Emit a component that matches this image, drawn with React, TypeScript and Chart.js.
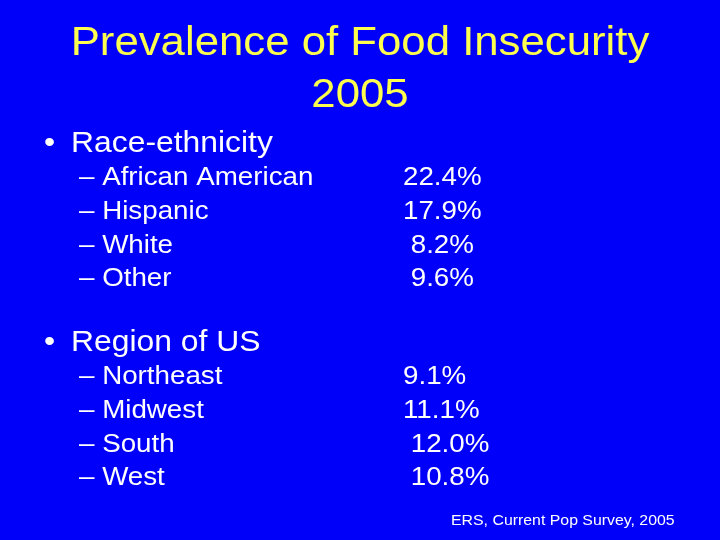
import React, { useEffect, useRef } from "react";
import { Chart, registerables } from "chart.js";

Chart.register(...registerables);

// ---- data ----
const titleLines = ["Prevalence of Food Insecurity", "2005"];
const raceHeading = "Race-ethnicity";
const raceCategories = ["African American", "Hispanic", "White", "Other"];
const raceValues = [22.4, 17.9, 8.2, 9.6];
const regionHeading = "Region of US";
const regionCategories = ["Northeast", "Midwest", "South", "West"];
const regionValues = [9.1, 11.1, 12.0, 10.8];
const sourceNote = "ERS, Current Pop Survey, 2005";

// ---- layout / style ----
const W = 720;
const H = 540;
const BG = "#0000FA";
const TITLE_COLOR = "#FFFF4D";
const TEXT_COLOR = "#FFFFFF";
const FONT = "'Liberation Sans', Arial, Helvetica, sans-serif";
const XSCALE = 1.08;
const valueIndent = [false, false, true, true];

const slidePlugin = {
  id: "slideText",
  beforeDraw(chart: any) {
    const ctx = chart.ctx as CanvasRenderingContext2D;
    ctx.save();
    ctx.fillStyle = BG;
    ctx.fillRect(0, 0, chart.width, chart.height);
    ctx.restore();
  },
  afterDraw(chart: any) {
    const ctx = chart.ctx as CanvasRenderingContext2D;
    const labels: string[] = chart.data.labels;
    const ds = chart.data.datasets;
    const race: number[] = ds[0].data;
    const region: number[] = ds[1].data;

    const draw = (
      text: string,
      x: number,
      y: number,
      size: number,
      color: string,
      align: CanvasTextAlign = "left"
    ) => {
      ctx.save();
      ctx.translate(x, y);
      ctx.scale(XSCALE, 1);
      ctx.font = `${size}px ${FONT}`;
      ctx.fillStyle = color;
      ctx.textAlign = align;
      ctx.textBaseline = "alphabetic";
      ctx.fillText(text, 0, 0);
      ctx.restore();
    };

    // title
    draw(titleLines[0], 360, 55, 40.5, TITLE_COLOR, "center");
    draw(titleLines[1], 360, 107, 40.5, TITLE_COLOR, "center");

    const fmt = (v: number, i: number) =>
      (valueIndent[i] ? " " : "") + v.toFixed(1) + "%";

    const section = (
      heading: string,
      headY: number,
      cats: string[],
      vals: number[]
    ) => {
      draw("\u2022", 44, headY, 29.5, TEXT_COLOR);
      draw(heading, 71, headY, 29.5, TEXT_COLOR);
      const rowYs = [33, 67, 101, 134];
      cats.forEach((c, i) => {
        const y = headY + rowYs[i];
        draw("\u2013 " + c, 79, y, 25.7, TEXT_COLOR);
        draw(fmt(vals[i], i), 403, y, 25.7, TEXT_COLOR);
      });
    };

    section(raceHeading, 152, labels.slice(0, 4), race);
    section(regionHeading, 351, labels.slice(4, 8), region);

    draw(sourceNote, 451, 525, 14.7, TEXT_COLOR);
  },
};

export default function App() {
  const ref = useRef<HTMLCanvasElement | null>(null);

  useEffect(() => {
    if (!ref.current) return;
    const chart = new Chart(ref.current, {
      type: "bar",
      data: {
        labels: [...raceCategories, ...regionCategories],
        datasets: [
          {
            label: raceHeading,
            data: raceValues,
            backgroundColor: "rgba(0,0,0,0)",
            borderWidth: 0,
          },
          {
            label: regionHeading,
            data: regionValues,
            backgroundColor: "rgba(0,0,0,0)",
            borderWidth: 0,
          },
        ],
      },
      options: {
        animation: false,
        responsive: false,
        devicePixelRatio: 1,
        events: [],
        layout: { padding: 0 },
        plugins: {
          legend: { display: false },
          tooltip: { enabled: false },
          title: { display: false },
        },
        scales: {
          x: { display: false },
          y: { display: false },
        },
      },
      plugins: [slidePlugin],
    });
    return () => chart.destroy();
  }, []);

  return (
    <div
      style={{
        position: "fixed",
        left: 0,
        top: 0,
        width: W,
        height: H,
        background: BG,
      }}
    >
      <canvas ref={ref} width={W} height={H} style={{ display: "block" }} />
    </div>
  );
}
